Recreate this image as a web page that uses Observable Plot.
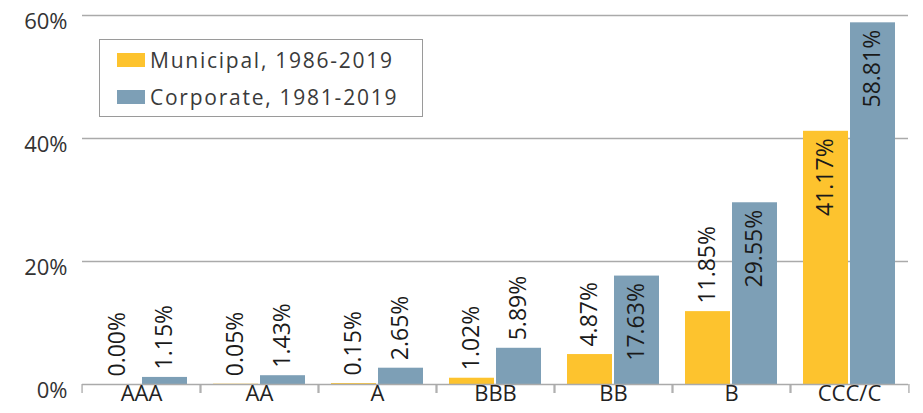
<!DOCTYPE html>
<html>
<head>
<meta charset="utf-8">
<script src="https://cdn.jsdelivr.net/npm/d3@7"></script>
<script src="https://cdn.jsdelivr.net/npm/@observablehq/plot@0.6"></script>
<style>
  html, body { margin: 0; padding: 0; background: #fff; }
  #wrap { position: relative; width: 923px; height: 413px; overflow: hidden; font-family: "Open Sans", sans-serif; }
  #legend { position: absolute; left: 99px; top: 39px; width: 322px; height: 76px; border: 1.5px solid #9a9a9a; background: #fff; }
  .row { position: absolute; left: 17px; height: 26px; display: flex; align-items: center; font-size: 21px; color: #3a3a3a; letter-spacing: 1.75px; white-space: nowrap; }
  .sw { width: 28px; height: 14px; margin-right: 5px; }
</style>
</head>
<body>
<div id="wrap"></div>
<script>
const categories = ["AAA", "AA", "A", "BBB", "BB", "B", "CCC/C"];
const seriesNames = ["Municipal, 1986-2019", "Corporate, 1981-2019"];
const municipal = [0.00, 0.05, 0.15, 1.02, 4.87, 11.85, 41.17];
const corporate = [1.15, 1.43, 2.65, 5.89, 17.63, 29.55, 58.81];
const seriesColors = ["#fdc32e", "#7d9fb6"];
const yTicks = [0, 20, 40, 60];

const rows = [];
categories.forEach((c, i) => {
  rows.push({cat: c, series: seriesNames[0], value: municipal[i]});
  rows.push({cat: c, series: seriesNames[1], value: corporate[i]});
});
const insideThreshold = 15;
const fmt = d => d.value.toFixed(2) + "%";

const W = 923, ML = 79, MR = 12;
const half = (W - ML - MR) / categories.length / 2;

const chart = Plot.plot({
  width: W,
  height: 413,
  marginLeft: ML,
  marginRight: MR,
  marginTop: 15,
  marginBottom: 29,
  style: {fontFamily: "Open Sans, sans-serif", color: "#333", background: "transparent", overflow: "visible"},
  fx: {domain: categories, padding: 0, label: null},
  x: {domain: seriesNames, paddingInner: 0.042, paddingOuter: 0.26, axis: null},
  y: {domain: [0, 60], axis: null},
  color: {domain: seriesNames, range: seriesColors},
  marks: [
    Plot.gridY(yTicks.filter(d => d > 0), {stroke: "#aaaaaa", strokeOpacity: 1, strokeWidth: 1.3}),
    Plot.barY(rows, {fx: "cat", x: "series", y: "value", fill: "series"}),
    Plot.ruleY([0], {stroke: "#aaaaaa", strokeWidth: 1.3}),
    Plot.ruleX([categories[0]], {fx: d => d, y1: 0, y2: 60, dx: -half, stroke: "#aaaaaa", strokeWidth: 1.3}),
    Plot.axisY(yTicks, {tickSize: 0, tickPadding: 15, dy: 6, tickFormat: d => d + "%", fontSize: 22, label: null, fill: "#333", style: "letter-spacing:3px"}),
    Plot.axisFx({anchor: "bottom", tickSize: 0, tickPadding: 1, fontSize: 22, label: null, fill: "#222", style: "letter-spacing:1.8px"}),
    Plot.axisFx({anchor: "bottom", tickSize: 9, tickFormat: () => "", dx: -half, stroke: "#aaaaaa", strokeWidth: 1.3, label: null}),
    Plot.axisFx({anchor: "bottom", tickSize: 9, tickFormat: () => "", dx: half, stroke: "#aaaaaa", strokeWidth: 1.3, label: null}),
    Plot.text(rows.filter(d => d.value < insideThreshold), {fx: "cat", x: "series", y: "value", text: fmt, rotate: -90, textAnchor: "start", dy: -8, fontSize: 23, fill: "#1a1a1a", style: "letter-spacing:1.6px"}),
    Plot.text(rows.filter(d => d.value >= insideThreshold), {fx: "cat", x: "series", y: "value", text: fmt, rotate: -90, textAnchor: "end", dy: 7, fontSize: 23, fill: "#1a1a1a", style: "letter-spacing:1.6px"})
  ]
});

const wrap = document.getElementById("wrap");
wrap.appendChild(chart);

const legend = document.createElement("div");
legend.id = "legend";
seriesNames.forEach((s, i) => {
  const r = document.createElement("div");
  r.className = "row";
  r.style.top = (7 + i * 37) + "px";
  const sw = document.createElement("span");
  sw.className = "sw";
  sw.style.background = seriesColors[i];
  r.appendChild(sw);
  r.appendChild(document.createTextNode(s));
  legend.appendChild(r);
});
wrap.appendChild(legend);
</script>
</body>
</html>
